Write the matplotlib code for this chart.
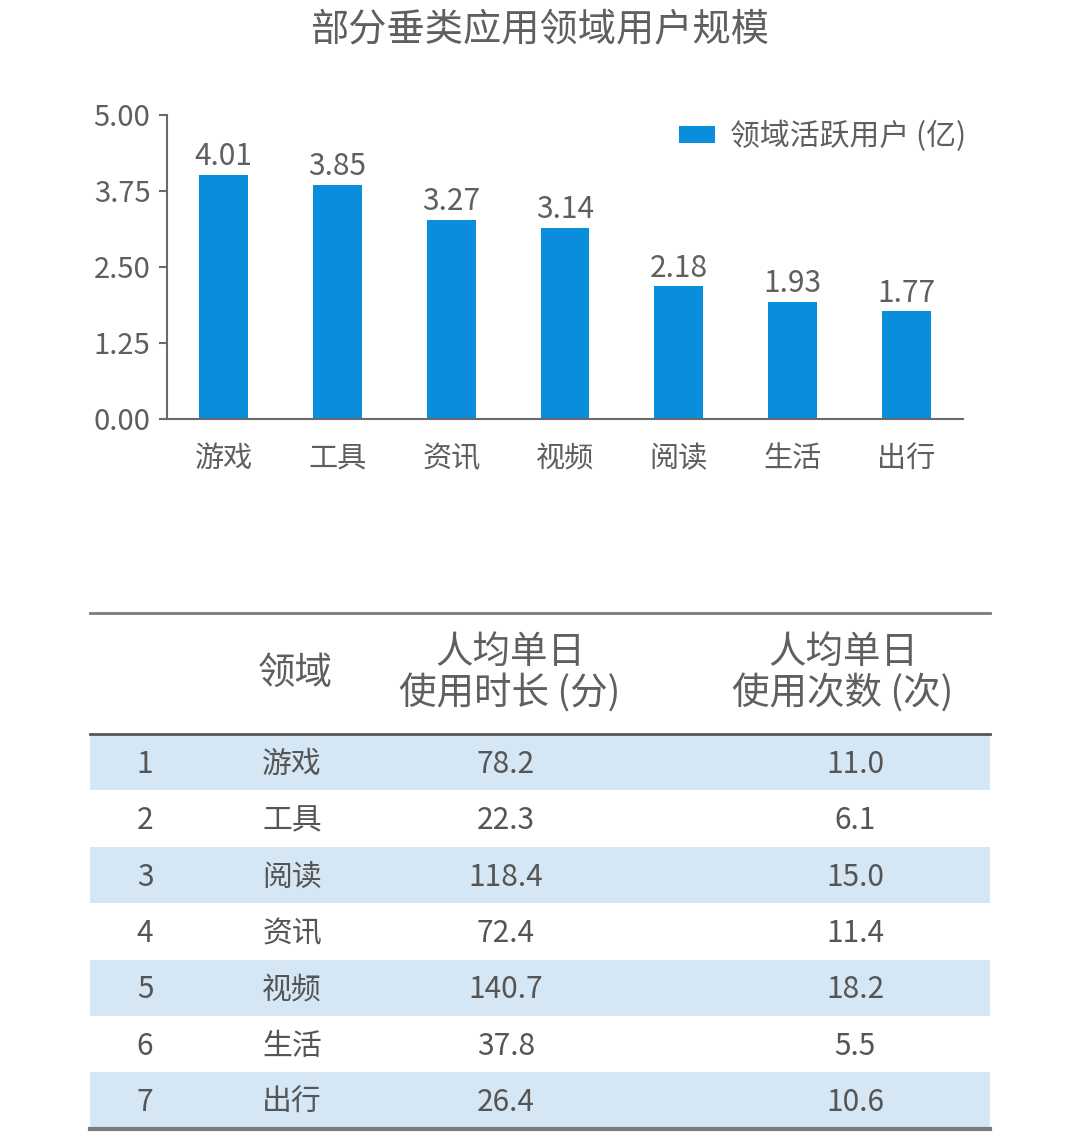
import matplotlib
matplotlib.use('Agg')
import matplotlib.pyplot as plt
from matplotlib.patches import Rectangle

plt.rcParams['font.family'] = ['Noto Sans CJK SC', 'DejaVu Sans']

#---------------------------------------------------------
# data
#---------------------------------------------------------
title = '部分垂类应用领域用户规模'
categories = ['游戏', '工具', '资讯', '视频', '阅读', '生活', '出行']
active_users = [4.01, 3.85, 3.27, 3.14, 2.18, 1.93, 1.77]
legend_label = '领域活跃用户 (亿)'
y_ticks = [0.00, 1.25, 2.50, 3.75, 5.00]

table_header = ['', '领域', '人均单日\n使用时长 (分)', '人均单日\n使用次数 (次)']
table_idx = ['1', '2', '3', '4', '5', '6', '7']
table_domain = ['游戏', '工具', '阅读', '资讯', '视频', '生活', '出行']
table_minutes = ['78.2', '22.3', '118.4', '72.4', '140.7', '37.8', '26.4']
table_times = ['11.0', '6.1', '15.0', '11.4', '18.2', '5.5', '10.6']

BAR_COLOR = '#0a8edb'
TEXT_COLOR = '#5f5f5f'
TABLE_TEXT = '#555555'
AXIS_COLOR = '#6a6a6a'
BAND_COLOR = '#d5e7f4'

W, H = 1080, 1133
fig = plt.figure(figsize=(W / 100, H / 100), dpi=100)

#---------------------------------------------------------
# table drawn in pixel coordinates on a background axes
#---------------------------------------------------------
tab = fig.add_axes([0, 0, 1, 1], zorder=0)
tab.set_xlim(0, W)
tab.set_ylim(H, 0)
tab.axis('off')

tx0, tx1 = 90, 990
top_y, head_y, row_h = 613, 734, 56.4
col_x = [145, 292, 506, 855]

for i in range(len(table_idx)):
    y0 = head_y + i * row_h
    if i % 2 == 0:
        tab.add_patch(Rectangle((tx0, y0), tx1 - tx0, row_h, facecolor=BAND_COLOR, edgecolor='none'))
    yc = y0 + row_h / 2 + 2
    row = [table_idx[i], table_domain[i], table_minutes[i], table_times[i]]
    for j, val in enumerate(row):
        tab.text(col_x[j], yc, val, ha='center', va='center', fontsize=21.5,
                 color=TABLE_TEXT, fontweight='medium')

tab.plot([tx0, tx1], [top_y, top_y], color='#7a7a7a', lw=2)
tab.plot([tx0, tx1], [head_y, head_y], color='#555555', lw=2)
tab.plot([tx0, tx1], [head_y + 7 * row_h, head_y + 7 * row_h], color='#7a7a7a', lw=3)

head_x = [145, 295, 510, 843]
for j, h in enumerate(table_header):
    if h:
        tab.text(head_x[j], (top_y + head_y) / 2, h, ha='center', va='center',
                 fontsize=27, color=TEXT_COLOR, linespacing=1.1)

#---------------------------------------------------------
# bar chart
#---------------------------------------------------------
ax = fig.add_axes([167 / W, 1 - 419 / H, (963 - 167) / W, (419 - 115) / H], zorder=1)
ax.patch.set_alpha(0)
x = range(len(categories))
bars = ax.bar(x, active_users, width=0.43, color=BAR_COLOR, label=legend_label)
ax.bar_label(bars, labels=['{0:.2f}'.format(v) for v in active_users], padding=2,
             fontsize=21.5, color=TEXT_COLOR)

ax.set_xlim(-0.5, len(categories) - 0.5)
ax.set_ylim(0, 5)
ax.set_yticks(y_ticks)
ax.set_yticklabels(['{0:.2f}'.format(v) for v in y_ticks])
ax.set_xticks(list(x))
ax.set_xticklabels(categories)
ax.tick_params(axis='y', length=6, width=1.5, color=AXIS_COLOR, labelsize=21, labelcolor=TEXT_COLOR, pad=6)
ax.tick_params(axis='x', length=0, labelsize=21, labelcolor=TEXT_COLOR, pad=18)
for s in ['top', 'right']:
    ax.spines[s].set_visible(False)
for s in ['left', 'bottom']:
    ax.spines[s].set_color(AXIS_COLOR)
    ax.spines[s].set_linewidth(1.5)

ax.legend(loc='upper right', bbox_to_anchor=(1.038, 1.069), frameon=False, fontsize=21.5,
          handlelength=1.2, handleheight=0.5, handletextpad=0.5, labelcolor=TEXT_COLOR)

fig.text(0.5, 1 - 30 / H, title, ha='center', va='center', fontsize=27.5, color=TEXT_COLOR)

fig.savefig('out.png', dpi=100)
